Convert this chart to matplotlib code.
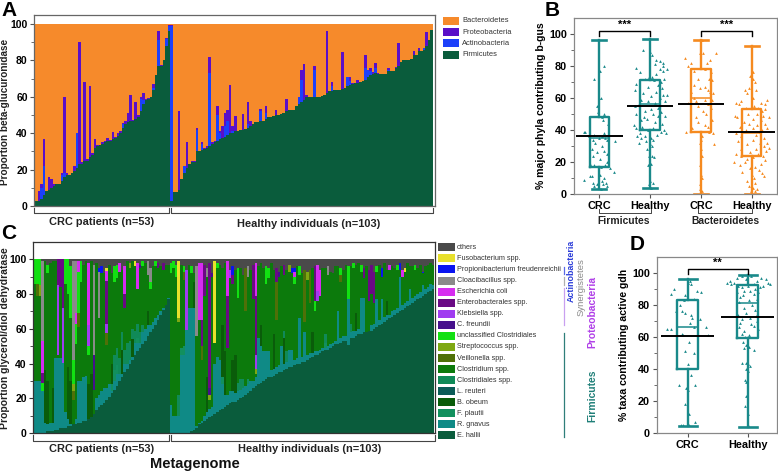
import numpy as np
import matplotlib
matplotlib.use("Agg")
import matplotlib.pyplot as plt
from matplotlib.patches import Rectangle

plt.rcParams["font.family"] = ["Liberation Sans", "DejaVu Sans"]

W, H = 778, 473

# ---- panel A: beta-glucuronidase phyla ----
firm_crc = [3, 3, 4, 6, 8, 9, 10, 11, 12, 12, 14, 16, 17, 17, 18, 19, 21, 23, 23, 25, 25, 27, 28, 32, 33, 33.5,
            34, 35, 36, 36, 37, 37.5, 38.5, 40, 43, 45, 46, 47, 47, 48, 49, 52, 56, 58, 59, 60, 64, 72, 77, 77,
            80, 88, 96]
top_crc = [3, 8, 12, 37, 8, 16, 15, 12, 12, 12, 18, 60, 18, 17, 18, 22, 40, 90, 24, 68, 26, 66, 29, 37, 33.5,
           33.5, 35, 36, 37.5, 36.5, 40.5, 38, 40, 41, 45.5, 47, 51, 61, 47.5, 57, 50, 60, 62, 59, 59.5, 60, 67,
           72, 96, 77.5, 80.5, 92.5, 99.5]
firm_hea = [3, 7.5, 7.5, 9, 15, 18, 21, 23, 24, 24, 30, 30, 31, 31.5, 32, 33, 34, 35, 36, 37, 37.5, 38, 39, 40,
            40, 41, 41, 42, 42, 42.5, 43, 44, 45, 46, 46, 47, 47, 48, 49, 49, 49.5, 50, 50, 50.5, 51, 52, 52.5,
            52.5, 52.5, 55, 56, 57, 58, 60, 60, 60, 60, 60, 60, 60.5, 61, 62, 63, 63, 63.5, 63.5, 64, 64.5, 65,
            66, 66.5, 67, 67.5, 67.5, 68, 68.5, 69, 71, 72, 72.5, 73, 72.5, 72.5, 72.5, 72.5, 74, 74, 74, 76,
            77, 79, 80, 80, 80, 81, 83, 83, 85, 85, 86, 88, 91, 97]
top_hea = [99.5, 7.5, 7.5, 52, 15, 22, 35, 23, 25, 24.5, 43, 30.5, 35, 32, 33, 82, 35, 36, 55, 41, 44, 51, 52.5,
           66.5, 44, 49.5, 41.5, 42, 50.5, 42.5, 57, 46.5, 45, 46, 46, 53.5, 47, 55, 49, 49, 49.5, 53, 50, 50.5,
           51, 59, 52.5, 52.5, 52.5, 55, 59, 75, 78, 61, 60, 60, 77, 60, 60, 60.5, 61, 96, 63, 68, 63.5, 63.5,
           64, 84.5, 65, 71, 71, 67.5, 67.5, 69.5, 68, 68.5, 83, 74, 76, 73.5, 78.5, 73, 72.5, 72.5, 72.5, 76,
           74, 74, 76.5, 89.5, 79, 80, 80, 80, 81, 85, 83, 87, 85, 86, 95.5, 91, 97]
actino_crc_sparse = {2: 6, 3: 16, 10: 3, 11: 2, 16: 19, 34: 2, 41: 7, 42: 2, 46: 1, 48: 14, 51: 4, 52: 3}
actino_hea_sparse = {0: 96, 5: 4, 10: 12, 12: 3, 15: 40, 18: 14, 19: 3, 21: 6, 22: 8, 24: 1, 30: 2, 35: 5, 37: 3,
                     50: 4, 51: 12, 56: 15, 63: 3, 69: 5, 70: 2, 76: 7, 77: 4, 78: 2, 80: 3, 85: 1, 99: 1}
phyla_names = ["Bacteroidetes", "Proteobacteria", "Actinobacteria", "Firmicutes"]
phyla_colors = ["#f68a2b", "#5a0fc8", "#1c40fa", "#0a5c3c"]

# ---- panel B: summary + dots ----
b_stats = [
    dict(whislo=3, q1=17, med=35, q3=48, whishi=96, fliers=[]),
    dict(whislo=3.5, q1=40, med=56, q3=71, whishi=97, fliers=[]),
    dict(whislo=0, q1=39, med=60, q3=78, whishi=96, fliers=[]),
    dict(whislo=0, q1=24, med=38, q3=53, whishi=92.5, fliers=[]),
]
b_means = [36, 55, 56.5, 39]
b_y1 = [80, 77, 77, 72, 60, 60, 55, 51, 50, 48, 46, 44, 39, 39, 38, 37, 36, 36, 35, 35, 34, 34, 33, 32, 30, 28, 27,
        26, 25, 24, 22, 20, 19, 18, 18, 17, 16, 14, 12, 12, 11, 11, 10, 9, 8, 7, 7, 6, 6, 5, 5, 4, 3]
b_dx1 = [.1, 0, .02, -.1, 0, .03, -.04, -.02, .1, .06, .08, .17, -.3, -.28, .1, -.1, .05, -.2, 0, .12, -.12, .15,
         .3, -.08, .05, -.15, .1, -.05, .15, -.12, .02, .16, -.18, .12, -.1, .04, .2, .28, 0, .02, -.18, -.14, .1,
         -.3, .06, -.12, .14, -.04, .08, .16, -.1, 0, .03]
b_y2 = [90, 89, 87, 84, 83, 82, 81, 80, 79, 78, 78, 77, 76, 75, 73, 73, 72, 72, 71, 70, 69, 68, 67, 66, 65, 64, 63,
        62, 62, 61, 60, 59, 58, 58, 57, 56, 55, 54, 53, 52, 51, 50, 50, 49, 49, 48, 47, 46, 45, 44, 43, 42, 41, 41,
        40, 40, 39, 38, 38, 37, 36, 36, 35, 35, 34, 33, 32, 31, 30, 28, 24, 24, 23, 19, 19, 18, 8, 7, 6, 4]
b_dx2 = [-.15, 0, .03, .12, .2, .26, .1, .26, -.28, .34, .2, .25, -.2, .12, -.02, .04, -.1, .28, .08, .22, -.28,
         .16, -.05, .24, -.3, .12, -.14, .26, .34, .02, .2, -.18, -.05, .3, .1, -.22, -.3, .15, .02, -.1, .22, .05,
         -.28, .3, .16, -.12, -.06, -.18, .1, .24, -.32, -.16, .06, -.28, .28, -.04, .22, -.2, .32, .14, -.1, -.26,
         .02, -.18, .06, -.08, -.22, 0, .03, -.06, -.02, .04, .08, -.03, .02, -.05, 0, .05, -.03, .02]
b_y3 = [96, 88, 88, 88, 85, 84, 82, 82, 80, 78, 77, 76, 72, 72, 71, 68, 67, 66, 65, 64, 64, 63, 60, 59, 59, 58, 57,
        56, 55, 54, 52, 50, 48, 46, 45, 43, 42, 41, 39, 39, 38, 36, 34, 32, 31, 28, 24, 18, 12, 10, 6, 3, 2]
b_dx3 = [.02, -.02, .04, .3, -.32, .18, .12, -.2, -.25, .08, -.14, .2, .16, -.05, .22, -.14, .08, -.02, .15, -.2,
         .18, .24, -.14, .22, .08, -.1, -.26, .14, -.06, .2, .04, .1, -.1, .22, -.05, .08, .14, -.18, -.3, .16, .24,
         .02, 0, -.02, .26, .01, .02, -.01, 0, .02, -.02, -.01, .02]
b_y4 = [77, 76, 74, 72, 70, 66, 65, 65, 63, 60, 59, 58, 57, 57, 56, 56, 55, 54, 54, 53, 52, 50, 50, 49, 49, 48, 48,
        47, 46, 45, 44, 44, 43, 42, 41, 41, 40, 40, 39, 38, 37, 36, 35, 34, 33, 32, 32, 31, 30, 29, 28, 28, 27, 26,
        25, 25, 24, 24, 23, 22, 21, 20, 20, 19, 18, 17, 16, 15, 14, 13, 12, 11, 10, 8, 7, 5, 4, 3, 2, 2]
b_dx4 = [0, .03, -.04, .02, .06, -.06, -.14, .08, -.1, .02, .3, -.2, -.3, .18, -.24, .26, .04, .12, -.12, .26, .2,
         -.08, .1, -.32, .22, -.28, .34, .03, .18, -.16, -.05, .26, .1, -.22, .02, .3, -.12, .2, .16, -.3, .08, -.2,
         .24, .02, -.26, .3, .16, -.1, .24, .34, -.2, .08, .28, -.04, -.3, .12, -.2, .22, .02, -.1, .26, -.34, -.14,
         .18, -.22, .06, -.04, .14, -.18, .2, 0, .24, .04, -.1, .06, -.06, .02, .1, -.02, .06]
b_points = [(b_dx1, b_y1), (b_dx2, b_y2), (b_dx3, b_y3), (b_dx4, b_y4)]

# ---- panel C: glycerol/diol dehydratase taxa ----
hallii_crc = [0, 0, 0, 0, 0, 1, 1, 1, 2, 2, 3, 3, 3, 4, 4, 5, 5, 6, 6, 7, 7, 8, 9, 11, 13, 15, 16, 17, 19, 21, 23, 25,
              27, 30, 32, 35, 37, 40, 42, 45, 47, 49, 51, 53, 56, 58, 60, 62, 65, 68, 71, 74, 77]
hallii_hea = [0, 0, 0, 0, 0, 0, 0, 0, 1, 2, 3, 5, 6, 7, 8, 9, 10, 11, 12, 13, 14, 15, 16, 17, 18, 18, 19, 20, 21, 22,
              23, 24, 26, 27, 28, 29, 30, 31, 32, 32, 33, 34, 35, 35, 36, 37, 38, 38, 39, 40, 40, 41, 41, 42, 43, 44,
              45, 45, 46, 47, 48, 48, 49, 50, 51, 51, 52, 53, 53, 54, 55, 55, 56, 57, 57, 58, 58, 59, 59, 60, 61, 62,
              63, 64, 65, 66, 67, 68, 69, 70, 71, 72, 73, 74, 75, 76, 77, 78, 79, 80, 81, 82, 83]
gnavus_top_crc = [30, 30, 30, 30, 6, 5, 6, 6, 43, 43, 43, 43, 12, 8, 5, 5, 8, 30, 30, 32, 33, 8, 8, 9, 20, 22, 24, 26,
                  26, 28, 24, 30, 34, 34, 34, 40, 40, 42, 44, 52, 52, 52, 58, 60, 62, 62, 64, 66, 68, 70, 72, 74, 78]
gnavus_top_hea = [16, 10, 10, 10, 45, 45, 60, 72, 72, 72, 4, 6, 7, 10, 12, 14, 15, 40, 44, 42, 28, 22, 22, 24, 24, 23,
                  24, 25, 26, 27, 28, 30, 30, 32, 55, 50, 47, 47, 47, 36, 37, 38, 39, 50, 40, 41, 48, 48, 42, 43, 66,
                  44, 58, 45, 46, 46, 47, 47, 48, 49, 49, 50, 51, 52, 53, 70, 55, 56, 56, 82, 58, 59, 59, 60, 78, 78,
                  58, 58, 62, 63, 77, 65, 77, 67, 68, 68, 70, 71, 72, 90, 74, 75, 76, 83, 78, 79, 80, 81, 85, 83, 84,
                  86, 85]
others_crc = [0, 0, 0, 1, 1, 3, 2, 1, 1, 0, 0, 0, 0, 0, 4, 1, 1, 1, 1, 3, 1, 2, 1, 3, 2, 5, 4, 8, 5, 3, 8, 4, 3, 2, 6,
              4, 1, 2, 1, 1, 2, 3, 1, 2, 1, 5, 4, 1, 2, 4, 2, 3, 3]
others_hea = [2, 1, 3, 1, 3, 4, 6, 3, 4, 8, 4, 2, 2, 3, 5, 2, 8, 1, 2, 3, 5, 2, 1, 6, 4, 6, 5, 5, 9, 5, 4, 6, 3, 2, 4,
              2, 5, 4, 5, 2, 6, 5, 7, 4, 3, 6, 3, 5, 5, 4, 4, 8, 6, 7, 6, 5, 4, 3, 6, 5, 5, 4, 7, 8, 4, 4, 5, 6, 3, 4,
              4, 2, 3, 2, 3, 5, 4, 6, 3, 7, 4, 3, 5, 2, 6, 3, 4, 5, 3, 2, 6, 5, 2, 4, 4, 3, 5, 3, 7, 4, 3, 2, 3]

# rarer taxa, {sample number: percent}, first dict CRC, second dict healthy
plautii = ({30: 4, 31: 6, 32: 5, 40: 3}, {4: 4, 5: 5, 20: 4, 30: 3, 60: 3})
obeum = ({4: 30, 5: 25, 7: 20, 13: 30, 14: 25, 21: 20, 22: 25, 30: 12, 34: 14, 38: 10, 44: 8},
         {9: 15, 14: 20, 20: 30, 21: 25, 24: 18, 25: 22, 35: 12, 40: 20, 44: 15, 55: 12, 72: 10, 84: 8})
clostridiales = ({31: 9, 32: 10, 33: 9, 34: 10, 35: 8, 36: 12, 37: 11, 38: 6, 39: 7, 40: 8, 41: 6, 42: 4},
                 {3: 12, 26: 5, 27: 6, 28: 5, 44: 4, 45: 6, 60: 5, 70: 5})
veillonella = ({1: 7, 17: 8, 28: 7, 15: 5}, {5: 5, 12: 8, 29: 25, 41: 22, 52: 30, 54: 19, 66: 4})
strepto = ({2: 6, 15: 4, 37: 3}, {3: 2, 15: 3, 33: 3, 53: 5, 46: 4})
unclass = ({0: 14, 1: 14, 2: 15, 3: 6, 5: 5, 12: 14, 13: 20, 14: 30, 15: 14, 16: 12, 17: 24, 18: 12, 21: 5, 31: 9,
            32: 8, 42: 3, 45: 4, 47: 3},
           {0: 6, 1: 4, 2: 7, 5: 3, 8: 4, 18: 3, 26: 17, 37: 10, 38: 6, 48: 4, 50: 5, 56: 6, 66: 4, 69: 20, 71: 3,
            74: 4, 88: 3, 95: 3, 80: 3})
freundii = ({23: 20, 41: 2}, {15: 4, 16: 2, 42: 3})
klebsiella = ({9: 40, 11: 34, 21: 12, 28: 5}, {6: 35, 23: 5, 33: 8, 57: 6})
enterobac = ({9: 15, 10: 16, 11: 30, 3: 7, 28: 25, 35: 8, 50: 4, 48: 3}, {12: 15, 13: 18, 15: 72, 22: 30, 24: 5, 32: 20,
             33: 34, 56: 20, 75: 6, 77: 18, 78: 17, 79: 18, 41: 8, 44: 6})
ecoli = ({3: 23, 16: 6, 17: 6, 21: 36, 28: 6, 33: 5, 35: 16, 40: 15},
         {11: 33, 12: 33, 22: 20, 33: 19, 48: 3, 57: 15, 58: 15, 90: 4, 85: 3})
cloacibacillus = ({3: 57, 15: 57, 16: 30, 23: 52, 25: 27, 44: 8, 45: 8}, {10: 40, 30: 6, 61: 5, 14: 5})
propioni = ({26: 4, 25: 2}, {24: 5, 47: 3, 48: 2, 82: 5, 89: 4, 98: 1})
fuso = ({28: 1.5, 39: 3}, {3: 33, 17: 47, 91: 2})

legend_c_names = ["others", "Fusobacterium spp.", "Propionibacterium freudenreichii", "Cloacibacillus spp.",
                  "Escherichia coli", "Enterobacterales spp.", "Klebsiella spp.", "C. freundii",
                  "unclassified Clostridiales", "Streptococcus spp.", "Veillonella spp.", "Clostridium spp.",
                  "Clostridiales spp.", "L. reuteri", "B. obeum", "F. plautii", "R. gnavus", "E. hallii"]
legend_c_colors = ["#4a4a4a", "#e8e02c", "#0a14f0", "#8a8a8a", "#d62cf0", "#6a0a84", "#a03cf0", "#46108c",
                   "#12e012", "#7ea812", "#4f7008", "#0c7a0c", "#108a58", "#0c5c58", "#0a5c0a", "#12905e",
                   "#0f8a86", "#0a5c3c"]

# ---- panel D ----
d_stats = [
    dict(whislo=4.5, q1=40, med=66, q3=83, whishi=96, fliers=[]),
    dict(whislo=4, q1=59.5, med=81, q3=92.5, whishi=99, fliers=[]),
]
d_means = [60.5, 72.5]
d_y1 = [95, 94, 93, 90, 89, 88, 87, 86, 84, 83, 80, 76, 76, 75, 74, 72, 71, 69, 66, 66, 65, 65, 62, 61, 61, 57, 51,
        50, 43, 36, 30, 30, 28, 27, 18, 12, 7, 5, 5, 5]
d_dx1 = [.04, 0, .06, -.22, .16, .22, -.28, -.05, .1, -.06, -.12, -.2, -.1, -.04, .06, .08, .2, .04, .3, .1, -.34,
         -.28, -.1, -.08, .34, .03, -.05, .1, 0, .06, -.14, .13, -.03, 0, -.04, .02, .13, -.11, -.08, .02]
d_y2 = [98, 98, 97, 97, 96, 96, 95, 95, 94, 94, 94, 93, 93, 93, 92, 92, 92, 91, 91, 90, 89, 89, 88, 88, 87, 86, 85,
        84, 83, 82, 80, 78, 77, 75, 74, 73, 72, 71, 70, 69, 68, 67, 66, 65, 64, 62, 61, 60, 57, 55, 54, 53, 52, 44,
        44, 43, 42, 40, 39, 33, 32, 23, 17, 12, 5]
d_dx2 = [-.1, .05, .22, -.18, .3, -.02, -.3, .15, -.35, .34, -.22, .38, .1, -.28, -.16, .26, 0, .2, -.1, .12, .04,
         -.06, .18, -.18, .1, -.08, -.12, .16, .02, -.14, .08, -.06, .12, -.02, -.16, .14, .04, -.1, .16, -.12, .06,
         .1, -.14, .18, -.06, -.1, .02, -.05, -.08, -.02, .02, -.06, .1, -.09, -.02, 0, .04, -.03, 0, -.05, -.02,
         -.02, -.04, .01, 0]
d_points = [(d_dx1, d_y1), (d_dx2, d_y2)]

teal = "#19898a"
orange = "#f58a1f"


def axes_px(left, top, right, bottom):
    return fig.add_axes([left / W, 1 - bottom / H, (right - left) / W, (bottom - top) / H])


def layer(sparse_pair):
    values = np.zeros(156)
    for k, v in sparse_pair[0].items():
        values[k] = v
    for k, v in sparse_pair[1].items():
        values[53 + k] = v
    return values


def style_frame(ax, color="#666666"):
    for s in ax.spines.values():
        s.set_color(color)
        s.set_linewidth(0.9)


def boxes(ax, stats, means, points, colors, width, cap, mean_half):
    for i, st in enumerate(stats):
        pos = i + 1
        ax.bxp([st], positions=[pos], widths=width, capwidths=cap, showfliers=False, manage_ticks=False,
               boxprops=dict(color=colors[i], lw=1.7), whiskerprops=dict(color=colors[i], lw=1.7),
               capprops=dict(color=colors[i], lw=1.9), medianprops=dict(color=colors[i], lw=1.1))
        dx, y = points[i]
        ax.scatter(pos + np.array(dx), y, marker="^", s=4, color=colors[i], lw=0, zorder=3)
        ax.hlines(means[i], pos - mean_half, pos + mean_half, color="black", lw=1.4, zorder=4)


def bracket(ax, x0, x1, y, stars, drop=3):
    ax.plot([x0, x0, x1, x1], [y - drop, y, y, y - drop], color="black", lw=1.0, clip_on=False)
    ax.text((x0 + x1) / 2, y + 0.6, stars, ha="center", va="bottom", fontsize=8, fontweight="bold", clip_on=False)


fig = plt.figure(figsize=(W / 100, H / 100), dpi=100)

# panel A
ax_a = axes_px(34, 15, 435, 206)
firm = np.array(firm_crc + firm_hea, dtype=float)
tops = np.array(top_crc + top_hea, dtype=float)
actino = layer((actino_crc_sparse, actino_hea_sparse))
proteo = np.clip(tops - firm - actino, 0, None)
xs = np.arange(156)
ax_a.bar(xs, np.full(156, 100.0), width=1, color=phyla_colors[0], lw=0)
ax_a.bar(xs, firm, width=1, color=phyla_colors[3], lw=0)
ax_a.bar(xs, actino, bottom=firm, width=1, color=phyla_colors[2], lw=0)
ax_a.bar(xs, proteo, bottom=firm + actino, width=1, color=phyla_colors[1], lw=0)
ax_a.set_xlim(-0.89, 156.3)
ax_a.set_ylim(0, 105)
ax_a.set_xticks([])
ax_a.set_yticks(range(0, 101, 20))
ax_a.set_yticks(range(10, 100, 20), minor=True)
ax_a.tick_params(axis="y", labelsize=7.5, length=3, width=0.8, pad=1.5, color="#555555")
ax_a.tick_params(axis="y", which="minor", length=2, width=0.6, color="#555555")
for t in ax_a.get_yticklabels():
    t.set_fontweight("bold")
style_frame(ax_a)

# panel C
ax_c = axes_px(33, 242, 435, 433)
hallii = np.array(hallii_crc + hallii_hea, dtype=float)
gnavus_top = np.array(gnavus_top_crc + gnavus_top_hea, dtype=float)
gnavus = np.clip(gnavus_top - hallii, 0, None)
others = np.array(others_crc + others_hea, dtype=float)
upper = [layer(v) for v in (veillonella, strepto, unclass, freundii, klebsiella, enterobac, ecoli, cloacibacillus,
                            propioni, fuso)]
lower = [layer(v) for v in (plautii, obeum)]
mid = layer(clostridiales)
reuteri = np.zeros(156)
clostridium = 100 - hallii - gnavus - others - sum(upper) - sum(lower) - mid
clostridium = np.clip(clostridium, 0, None)
stack = [("E. hallii", hallii), ("R. gnavus", gnavus), ("F. plautii", lower[0]), ("B. obeum", lower[1]),
         ("L. reuteri", reuteri), ("Clostridiales spp.", mid), ("Clostridium spp.", clostridium),
         ("Veillonella spp.", upper[0]), ("Streptococcus spp.", upper[1]), ("unclassified Clostridiales", upper[2]),
         ("C. freundii", upper[3]), ("Klebsiella spp.", upper[4]), ("Enterobacterales spp.", upper[5]),
         ("Escherichia coli", upper[6]), ("Cloacibacillus spp.", upper[7]), ("Propionibacterium freudenreichii", upper[8]),
         ("Fusobacterium spp.", upper[9]), ("others", others)]
totals = sum(vals for _, vals in stack)
scale = 100 / np.maximum(totals, 100)  # my readings overshoot 100 on a few columns
color_of = dict(zip(legend_c_names, legend_c_colors))
base = np.zeros(156)
for name, vals in stack:
    ax_c.bar(xs, vals * scale, bottom=base, width=1, color=color_of[name], lw=0)
    base = base + vals * scale
ax_c.set_xlim(-0.7, 155.7)
ax_c.set_ylim(0, 110)
ax_c.set_xticks([])
ax_c.set_yticks(range(0, 101, 20))
ax_c.set_yticks(range(10, 100, 20), minor=True)
ax_c.tick_params(axis="y", labelsize=7.5, length=3, width=0.8, pad=1.5, color="#333333")
ax_c.tick_params(axis="y", which="minor", length=2, width=0.6, color="#333333")
for t in ax_c.get_yticklabels():
    t.set_fontweight("bold")
style_frame(ax_c, "#333333")

# panel B
ax_b = axes_px(574, 18, 777, 194)
boxes(ax_b, b_stats, b_means, b_points, [teal, teal, orange, orange], 0.38, 0.28, 0.46)
ax_b.set_xlim(0.5, 4.5)
ax_b.set_ylim(0, 110)
ax_b.set_xticks([1, 2, 3, 4], ["CRC", "Healthy", "CRC", "Healthy"])
ax_b.set_yticks(range(0, 101, 20))
ax_b.set_yticks(range(10, 100, 20), minor=True)
ax_b.tick_params(labelsize=7.8, length=3, width=0.8, pad=2, color="#555555")
ax_b.tick_params(axis="y", which="minor", length=2, width=0.6, color="#555555")
ax_b.set_ylabel("% major phyla contributing b-gus", fontsize=7.6, fontweight="bold", labelpad=2)
for t in ax_b.get_xticklabels() + ax_b.get_yticklabels():
    t.set_fontweight("bold")
style_frame(ax_b, "#888888")
bracket(ax_b, 1, 2, 102, "***")
bracket(ax_b, 3, 4, 102, "***")

# panel D
ax_d = axes_px(657, 257, 777.5, 433)
boxes(ax_d, d_stats, d_means, d_points, [teal, teal], 0.36, 0.3, 0.44)
ax_d.set_xlim(0.49, 2.5)
ax_d.set_ylim(0, 110)
ax_d.set_xticks([1, 2], ["CRC", "Healthy"])
ax_d.set_yticks(range(0, 101, 20))
ax_d.set_yticks(range(10, 100, 20), minor=True)
ax_d.tick_params(labelsize=7.8, length=3, width=0.8, pad=2, color="#555555")
ax_d.tick_params(axis="y", which="minor", length=2, width=0.6, color="#555555")
ax_d.set_ylabel("% taxa contributing active gdh", fontsize=7.6, fontweight="bold", labelpad=2)
for t in ax_d.get_xticklabels() + ax_d.get_yticklabels():
    t.set_fontweight("bold")
style_frame(ax_d, "#888888")
bracket(ax_d, 1, 2, 102.5, "**")

# everything else is placed on a pixel overlay
over = fig.add_axes([0, 0, 1, 1], zorder=10)
over.set_xlim(0, W)
over.set_ylim(H, 0)
over.axis("off")

for label, x, y in [("A", 1, 11), ("B", 545, 10), ("C", 1, 233), ("D", 630, 244)]:
    over.text(x, y, label, fontsize=15, fontweight="bold", va="center", ha="left")

over.text(5, 112, "Proportion beta-glucuronidase", rotation=90, fontsize=7.2, fontweight="bold", va="center",
          ha="center", color="#222222")
over.text(5, 338, "Proportion glycerol/diol dehydratase", rotation=90, fontsize=7.5, fontweight="bold", va="center",
          ha="center", color="#222222")


def group_mark(x0, x1, y_low, y_high, text, text_x, text_y):
    over.plot([x0, x0, x1, x1], [y_high, y_low, y_low, y_high], color="#444444", lw=0.8)
    over.text(text_x, text_y, text, fontsize=7.9, fontweight="bold", ha="center", va="center", color="#222222")


group_mark(34, 169, 213, 208, "CRC patients (n=53)", 102, 222)
group_mark(171, 433, 213, 208, "Healthy individuals (n=103)", 309, 224)
group_mark(33, 169, 441, 435, "CRC patients (n=53)", 101.5, 449)
group_mark(171, 435, 441, 435, "Healthy individuals (n=103)", 310, 449)
over.text(195, 464, "Metagenome", fontsize=10.5, fontweight="bold", ha="center", va="center", color="#111111")

# panel B group labels
for x0, x1, text, cx in [(599, 651, "Firmicutes", 624), (698, 752, "Bacteroidetes", 725)]:
    over.plot([x0, x0, x1, x1], [209, 213, 213, 209], color="#444444", lw=0.7)
    over.text(cx, 221, text, fontsize=7.4, fontweight="bold", ha="center", va="center", color="#222222")

# legend A
for i, (name, col) in enumerate(zip(phyla_names, phyla_colors)):
    yc = 21 + i * 11.2
    over.add_patch(Rectangle((443, yc - 4), 16, 8, color=col, lw=0))
    over.text(462, yc, name, fontsize=5.4, va="center", ha="left", color="#333333")

# legend C
for i, (name, col) in enumerate(zip(legend_c_names, legend_c_colors)):
    yc = 247.3 + i * 11.07
    over.add_patch(Rectangle((438, yc - 4), 17, 8, color=col, lw=0))
    over.text(456.7, yc, name, fontsize=5.2, va="center", ha="left", color="#333333")

# phylum marks next to legend C
for y0, y1, col in [(267, 274, "#5a6ae8"), (277, 285, "#b0b0b0"), (288, 325, "#c9a0f0"), (333, 437, "#2f7f7a")]:
    over.plot([564, 564], [y0, y1], color=col, lw=0.9)
for x, y, text, size, weight, col in [(571, 271, "Actinobacteria", 6.4, "bold", "#2a3cd8"),
                                      (581, 287, "Synergistetes", 6.8, "normal", "#8a8a8a"),
                                      (592, 312, "Proteobacteria", 7.4, "bold", "#b040e8"),
                                      (592, 396, "Firmicutes", 7.4, "bold", "#1f7f78")]:
    over.text(x, y, text, rotation=90, fontsize=size, fontweight=weight, color=col, ha="center", va="center")

fig.savefig("out.png", dpi=100)
